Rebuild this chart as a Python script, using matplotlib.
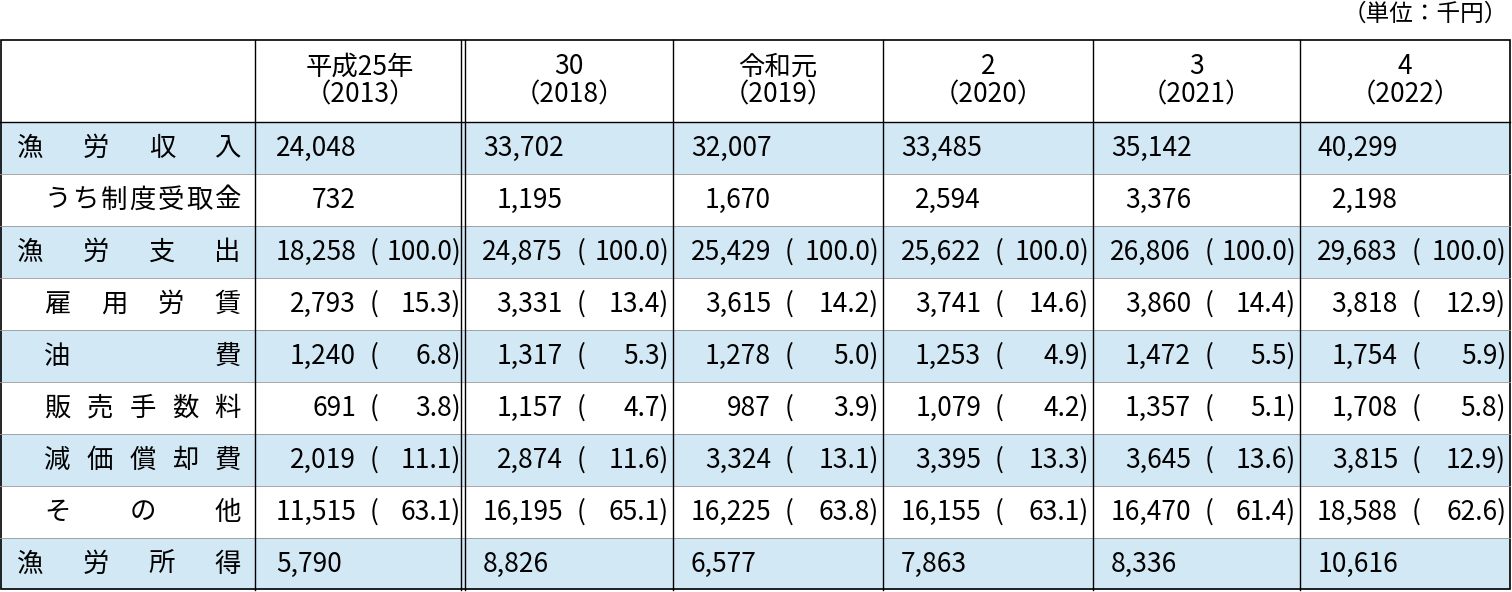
import matplotlib.pyplot as plt
from matplotlib.patches import Rectangle

plt.rcParams['font.family'] = 'Noto Sans CJK JP'

# Data
headers = ['平成25年\n（2013）', '30\n（2018）', '令和元\n（2019）', '2\n（2020）', '3\n（2021）', '4\n（2022）']
row_labels = ['漁労収入', 'うち制度受取金', '漁労支出', '雇用労賃', '油費', '販売手数料', '減価償却費', 'その他', '漁労所得']
label_indent = [0, 1, 0, 1, 1, 1, 1, 1, 0]
values = [
    ['24,048', '33,702', '32,007', '33,485', '35,142', '40,299'],
    ['732', '1,195', '1,670', '2,594', '3,376', '2,198'],
    ['18,258', '24,875', '25,429', '25,622', '26,806', '29,683'],
    ['2,793', '3,331', '3,615', '3,741', '3,860', '3,818'],
    ['1,240', '1,317', '1,278', '1,253', '1,472', '1,754'],
    ['691', '1,157', '987', '1,079', '1,357', '1,708'],
    ['2,019', '2,874', '3,324', '3,395', '3,645', '3,815'],
    ['11,515', '16,195', '16,225', '16,155', '16,470', '18,588'],
    ['5,790', '8,826', '6,577', '7,863', '8,336', '10,616'],
]
shares = [
    None, None,
    ['100.0'] * 6,
    ['15.3', '13.4', '14.2', '14.6', '14.4', '12.9'],
    ['6.8', '5.3', '5.0', '4.9', '5.5', '5.9'],
    ['3.8', '4.7', '3.9', '4.2', '5.1', '5.8'],
    ['11.1', '11.6', '13.1', '13.3', '13.6', '12.9'],
    ['63.1', '65.1', '63.8', '63.1', '61.4', '62.6'],
    None,
]
shaded = [True, False, True, False, True, False, True, False, True]
left_aligned = [True, False, False, False, False, False, False, False, True]

W, H = 1512, 592
fig = plt.figure(figsize=(W / 100, H / 100), dpi=100)
ax = fig.add_axes([0, 0, 1, 1])
ax.set_xlim(0, W)
ax.set_ylim(H, 0)
ax.axis('off')

col_x = [0, 255, 465, 673, 883, 1093, 1300, 1510]
top, head_bot, row_h = 40, 122, 52
bottom = head_bot + row_h * len(row_labels)
blue = '#d3e8f5'
fs = 19

ax.text(1508, 14, '（単位：千円）', ha='right', va='center', fontsize=17)

for i, lab in enumerate(row_labels):
    y0 = head_bot + i * row_h
    yc = y0 + row_h / 2
    if shaded[i]:
        ax.add_patch(Rectangle((0, y0), W - 2, row_h, color=blue, lw=0))
    ax.plot([0, col_x[-1]], [y0, y0], color='#999999', lw=0.6)
    x_start = 18 if label_indent[i] == 0 else 45
    x_end = 240
    n = len(lab)
    cw = 25
    for k, ch in enumerate(lab):
        x = x_start + cw / 2 + k * (x_end - x_start - cw) / (n - 1)
        ax.text(x, yc, ch, ha='center', va='center', fontsize=fs)
    for j in range(6):
        cl = col_x[j + 1] + (3 if j == 0 else 0)
        cr = col_x[j + 2]
        if left_aligned[i]:
            ax.text(cl + 18, yc, values[i][j], ha='left', va='center', fontsize=fs)
        else:
            ax.text(cl + 98, yc, values[i][j], ha='right', va='center', fontsize=fs)
        if shares[i] is not None:
            ax.text(cl + 112, yc, '(', ha='left', va='center', fontsize=fs)
            ax.text(cr - 4, yc, shares[i][j] + ')', ha='right', va='center', fontsize=fs)

for j, h in enumerate(headers):
    xc = (col_x[j + 1] + col_x[j + 2]) / 2
    ax.text(xc, (top + head_bot) / 2, h, ha='center', va='center', fontsize=fs, linespacing=1.05)

# grid lines
ax.plot([0, col_x[-1]], [head_bot, head_bot], color='black', lw=1)
for x in col_x[1:-1]:
    ax.plot([x, x], [top, bottom], color='black', lw=1)
ax.plot([461, 461], [top, bottom], color='black', lw=1)
ax.add_patch(Rectangle((1, top), col_x[-1] - 1, bottom - top - 1, fill=False, ec='black', lw=1.2))

fig.savefig('out.png', dpi=100)
